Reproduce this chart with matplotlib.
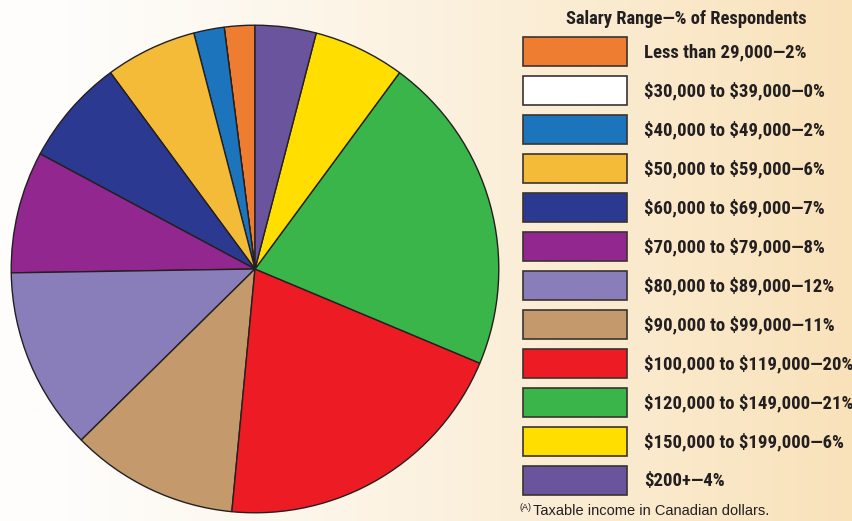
import matplotlib
matplotlib.use("Agg")
import matplotlib.pyplot as plt
import numpy as np
from matplotlib.patches import Rectangle
from matplotlib import font_manager
from matplotlib.font_manager import FontProperties

plt.rcParams["text.parse_math"] = False

labels = ["Less than 29,000", "$30,000 to $39,000", "$40,000 to $49,000",
          "$50,000 to $59,000", "$60,000 to $69,000", "$70,000 to $79,000",
          "$80,000 to $89,000", "$90,000 to $99,000", "$100,000 to $119,000",
          "$120,000 to $149,000", "$150,000 to $199,000", "$200+"]
values = [2, 0, 2, 6, 7, 8, 12, 11, 20, 21, 6, 4]
colors = ["#EF7D31", "#FFFFFF", "#1C75BC", "#F4BB38", "#2B3990", "#92278F",
          "#8A7EBA", "#C49A6C", "#ED1C24", "#39B54A", "#FFDE00", "#6A549E"]
title = "Salary Range\u2014% of Respondents"
footnote = "Taxable income in Canadian dollars."

W, H = 852, 521
fig = plt.figure(figsize=(W / 100, H / 100), dpi=100)

# find a condensed heavy font
fonts = font_manager.fontManager.ttflist
cand = None
for key in ["RobotoCondensed-Black", "RobotoCondensed-ExtraBold", "RobotoCondensed-Bold",
            "LiberationSansNarrow-Bold", "DejaVuSansCondensed-Bold"]:
    for f in fonts:
        if key.lower() in f.fname.lower().replace(" ", "") and "italic" not in f.fname.lower():
            cand = f.fname
            break
    if cand:
        break
if cand:
    condfp = FontProperties(fname=cand)
else:
    condfp = FontProperties(family="DejaVu Sans", weight="bold", stretch="condensed")

# background gradient
bg = fig.add_axes([0, 0, 1, 1])
bg.set_axis_off()
x = np.linspace(0, 1, 400)
t = np.clip((x - 0.08) / 0.92, 0, 1) ** 1.1
left = np.array([254, 253, 251]) / 255
right = np.array([249, 226, 186]) / 255
grad = left[None, :] * (1 - t[:, None]) + right[None, :] * t[:, None]
bg.imshow(grad[None, :, :], aspect="auto", extent=[0, 1, 0, 1])
bg.set_xlim(0, 1)
bg.set_ylim(0, 1)

# pie
cx, cy, r = 255, 269, 245
ax = fig.add_axes([(cx - r) / W, (H - cy - r) / H, 2 * r / W, 2 * r / H])
ax.pie(values, colors=colors, startangle=90, counterclock=True,
       wedgeprops=dict(edgecolor="#231F20", linewidth=1.0))
ax.set_xlim(-1.005, 1.005)
ax.set_ylim(-1.005, 1.005)
ax.set_aspect("auto")
ax.set_axis_off()

# legend
lg = fig.add_axes([0, 0, 1, 1])
lg.set_xlim(0, W)
lg.set_ylim(H, 0)
lg.set_axis_off()
lg.patch.set_alpha(0)
renderer = fig.canvas.get_renderer()


def size_for(s, target_w):
    fp = condfp.copy()
    fp.set_size(15)
    tx = lg.text(0, 0, s, fontproperties=fp)
    w = tx.get_window_extent(renderer).width
    tx.remove()
    return 15 * target_w / w


fp_title = condfp.copy(); fp_title.set_size(size_for(title, 241))
lg.text(686.5, 19, title, ha="center", va="center", fontproperties=fp_title,
        color="#231F20")

fp_lab = condfp.copy(); fp_lab.set_size(size_for("$30,000 to $39,000\u20140%", 181))

y0, dy = 51, 39
for i, (lab, v, c) in enumerate(zip(labels, values, colors)):
    yc = y0 + i * dy
    lg.add_patch(Rectangle((523, yc - 14.5), 104, 29, facecolor=c,
                           edgecolor="#3a3330", linewidth=1.2))
    lg.text(644, yc + 1, f"{lab}\u2014{v}%", ha="left", va="center",
            fontproperties=fp_lab, color="#231F20")

lg.text(520, 508, "(A)", ha="left", va="center", fontsize=6.5,
        family="Liberation Sans", color="#231F20")
lg.text(533, 511, footnote, ha="left", va="center", fontsize=10.5,
        family="Liberation Sans", color="#231F20")

fig.savefig("out.png", dpi=100)
